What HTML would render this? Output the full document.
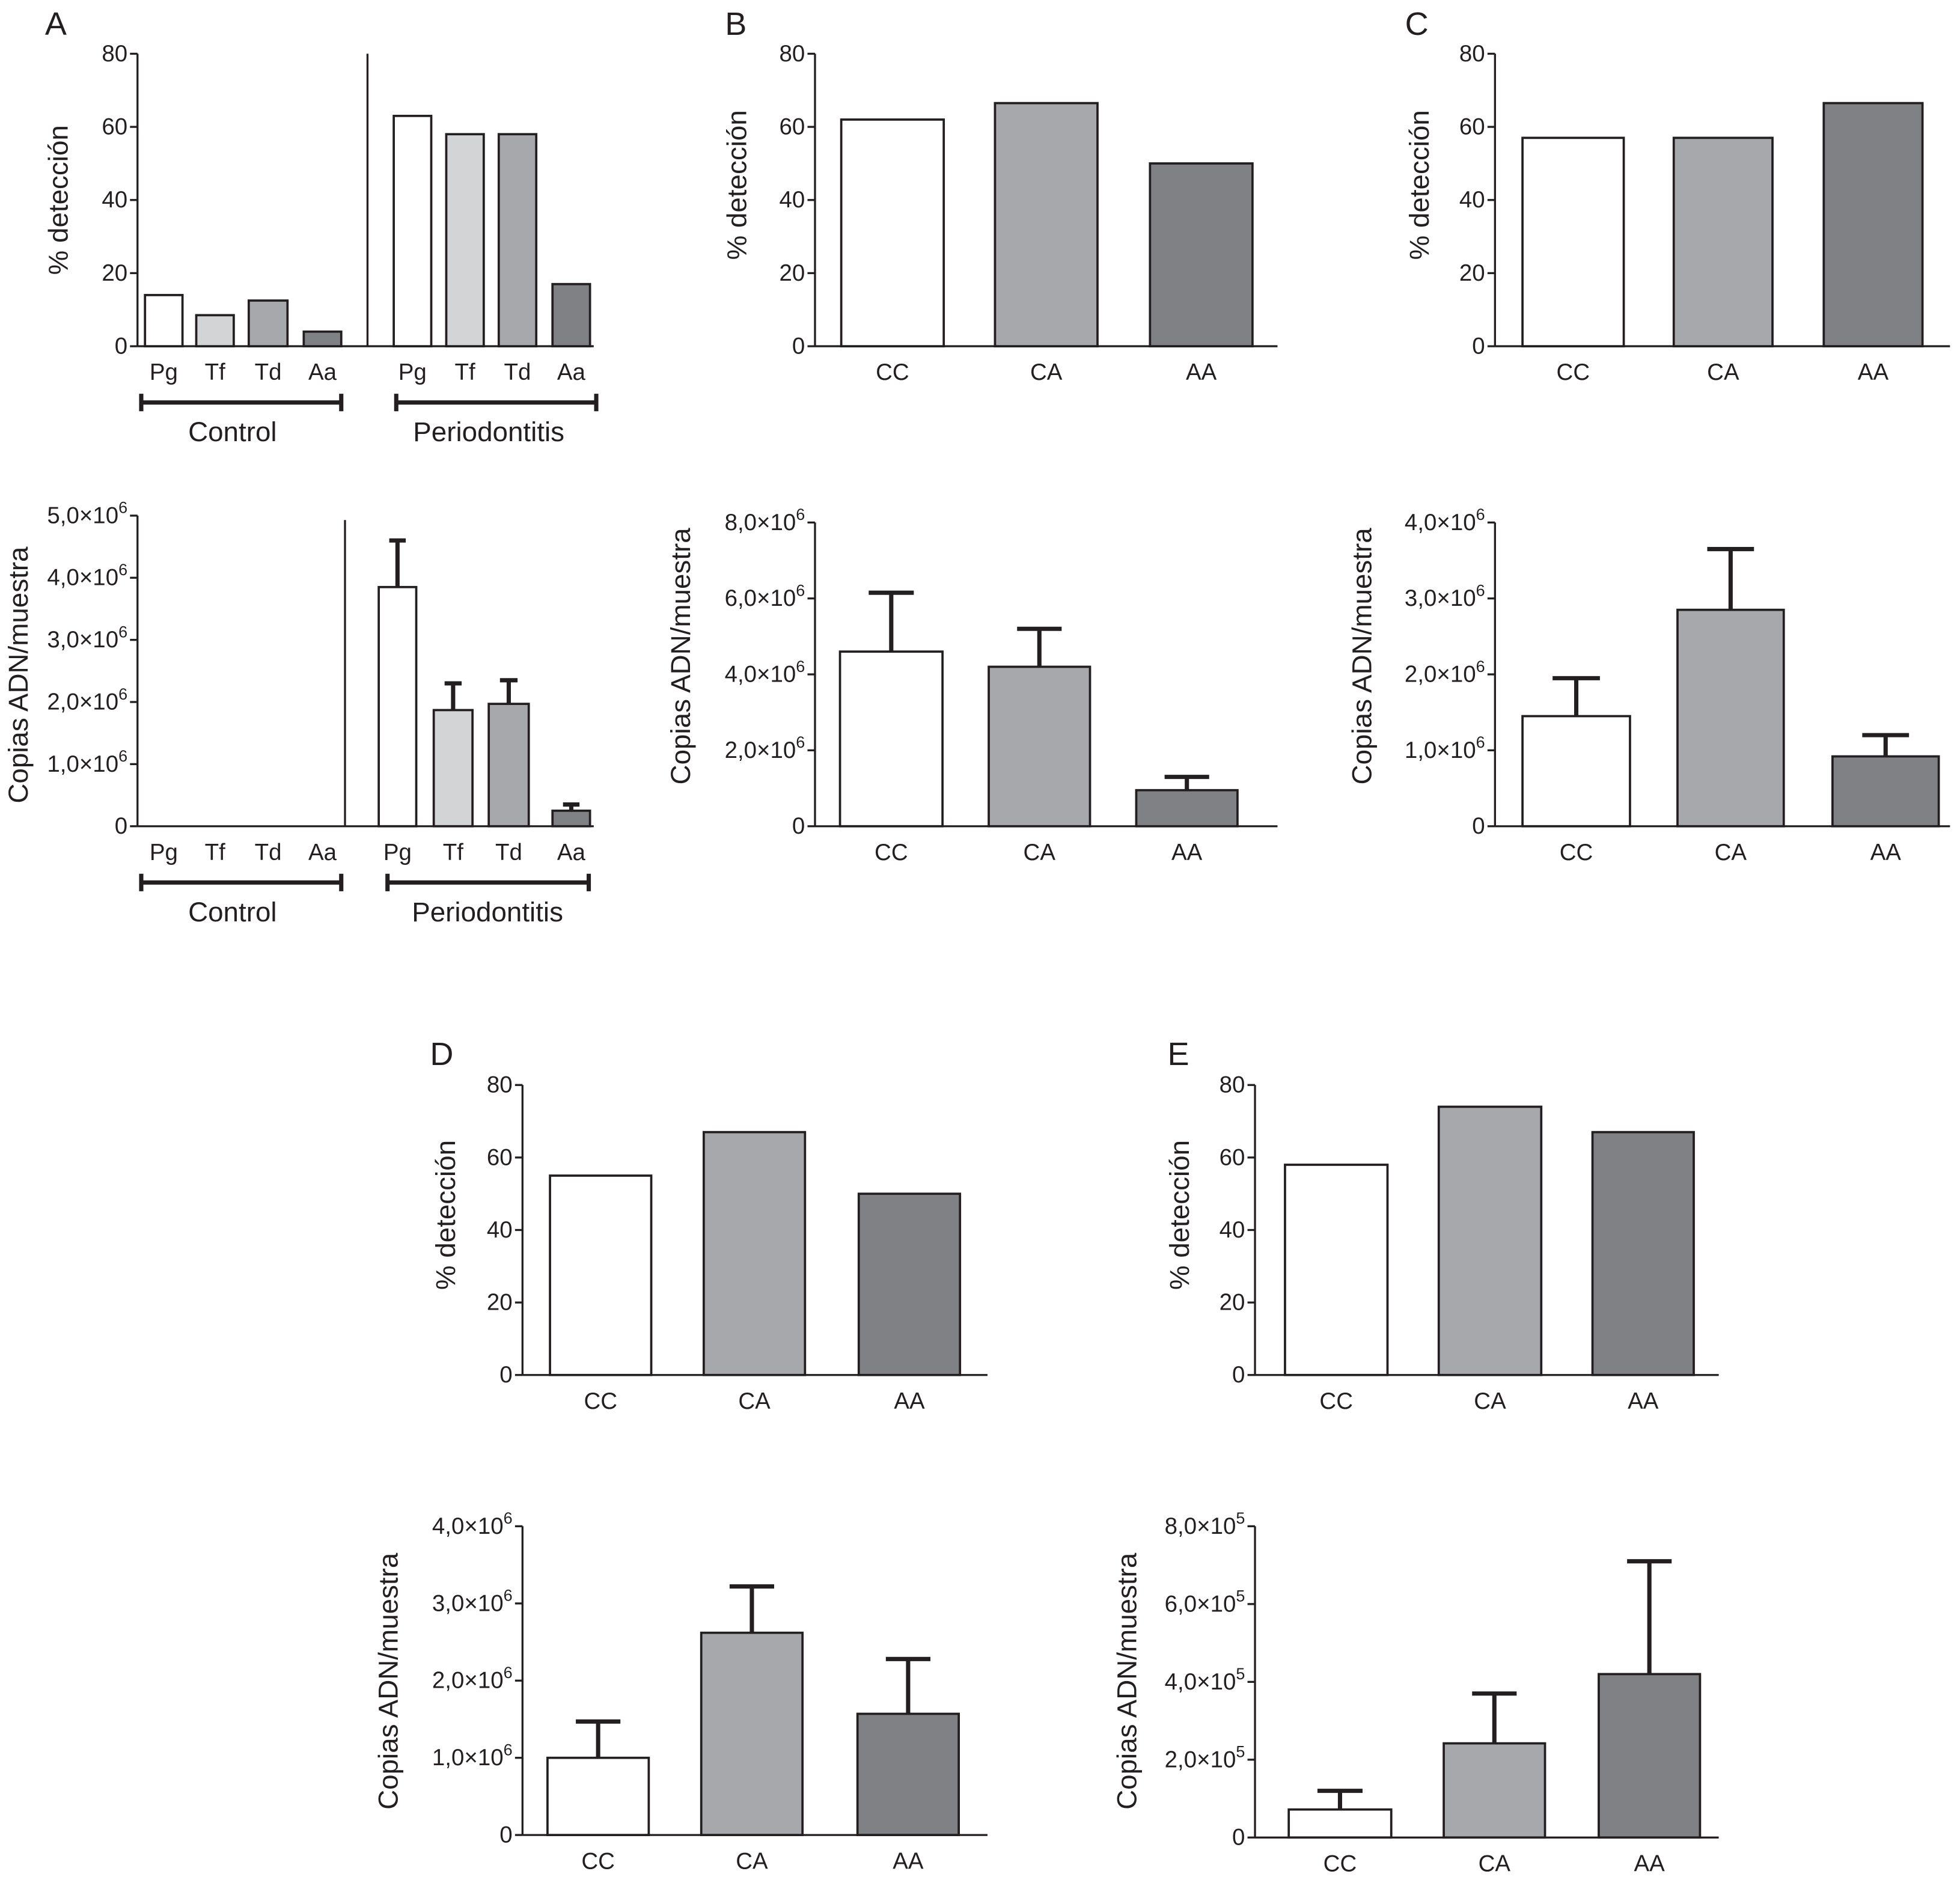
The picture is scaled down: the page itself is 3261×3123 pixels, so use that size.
<!DOCTYPE html>
<html><head><meta charset="utf-8"><style>
html,body{margin:0;padding:0;background:#fff}
svg{display:block}
text{font-family:"Liberation Sans",sans-serif;fill:#231f20}
.tk{font-family:"Liberation Sans Narrow","Liberation Sans",sans-serif;font-size:18.5px}
</style></head><body>
<svg id="fig" xmlns="http://www.w3.org/2000/svg" width="3261" height="3123" viewBox="0 0 1568 1501.6" preserveAspectRatio="none"></svg>
<script>
// ---- data ----
const organisms = ["Pg","Tf","Td","Aa"];
const aDetControl = [14,8.5,12.5,4];
const aDetPerio = [63,58,58,17];
const aCopControl = [0,0,0,0];
const aCopPerio = [3.85,1.87,1.97,0.25];
const aCopPerioErr = [4.6,2.3,2.35,0.35];
const genotypes = ["CC","CA","AA"];
const bDet = [62,66.5,50];
const bCop = [4.6,4.2,0.95];
const bCopErr = [6.15,5.2,1.3];
const cDet = [57,57,66.5];
const cCop = [1.45,2.85,0.92];
const cCopErr = [1.95,3.65,1.2];
const dDet = [55,67,50];
const dCop = [1.0,2.62,1.57];
const dCopErr = [1.47,3.22,2.28];
const eDet = [58,74,67];
const eCop = [0.72,2.42,4.2];
const eCopErr = [1.2,3.7,7.1];
const detTicks = [0,20,40,60,80];
const cop5Ticks = [0,1,2,3,4,5];
const cop8Ticks = [0,2,4,6,8];
const cop4Ticks = [0,1,2,3,4];
const colors4 = ["#ffffff","#d3d4d6","#a7a8ab","#808184"];
const colors3 = ["#ffffff","#a7a8ab","#808184"];

const svg = document.getElementById('fig');
const NS = "http://www.w3.org/2000/svg";
function el(tag, attrs, parent){
  const e = document.createElementNS(NS, tag);
  for (const k in attrs) e.setAttribute(k, attrs[k]);
  (parent||svg).appendChild(e);
  return e;
}
function txt(x,y,s,cls,anchor,parent){
  const t = el('text',{x:x,y:y,'text-anchor':anchor||'middle'},parent);
  if (cls) t.setAttribute('class',cls);
  t.textContent = s; return t;
}

function panel(o){
  const g = el('g',{});
  
  
  const ys = v => o.y0 - (v - 0) / o.max * (o.y0 - o.yTop);
  const ya = el('line',{x1:o.x0,y1:o.yTop,x2:o.x0,y2:o.y0,stroke:'#231f20','stroke-width':1.6},g);
   
  const xa = el('line',{x1:o.x0,y1:o.y0,x2:o.xEnd,y2:o.y0,stroke:'#231f20','stroke-width':1.6},g);
   
  o.ticks.forEach(v=>{
    const y = ys(v);
    el('line',{x1:o.x0-6,y1:y,x2:o.x0,y2:y,stroke:'#231f20','stroke-width':1.6},g);
    let t;
    if (v===0 || !o.sci) { t = txt(o.x0-8, y+6, String(v), 'tk','end',g); }
    else {
      t = el('text',{x:o.x0-8,y:y+6,'text-anchor':'end','class':'tk'},g);
      const a = el('tspan',{},t); a.textContent = v.toFixed(1).replace('.',',')+'×10';
      const b = el('tspan',{dy:-8,'font-size':13},t); b.textContent = o.sci;
    }
     
  });
  o.bars.forEach((b,i)=>{
    const yv = ys(b.v);
    if (b.v>0){
      const r = el('rect',{x:b.x1,y:yv,width:b.x2-b.x1,height:o.y0-yv,fill:b.c,stroke:'#231f20','stroke-width':1.8},g);
      
      
    }
    if (b.e!=null){
      const cx=(b.x1+b.x2)/2, ye=ys(b.e), hw=(b.x2-b.x1)*0.22;
      const l = el('path',{d:`M${cx},${yv} V${ye} M${cx-hw},${ye} H${cx+hw}`,stroke:'#231f20','stroke-width':3.4,fill:'none'},g);
      
      
    }
    const t = txt((b.x1+b.x2)/2, o.y0+27, b.label, 'tk','middle',g);
     
  });
  const t = el('text',{transform:`translate(${o.tx},${o.ty}) rotate(-90)`,'text-anchor':'middle','font-size':22},g);
  t.textContent = o.title;
   
  return {g, ys};
}
function mk3(vals, errs, xs, colors){
  return genotypes.map((gname,i)=>({label:gname,v:vals[i],e:errs?errs[i]:null,x1:xs[i][0],x2:xs[i][1],c:colors[i]}));
}
function letter(x,y,s){
  const t = txt(x,y,s,null,'start'); t.setAttribute('font-size',26);
   
}
function bracket(x1,x2,y,label,cx){
  const p = el('path',{d:`M${x1},${y-7}V${y+7}M${x1},${y}H${x2}M${x2},${y-7}V${y+7}`,stroke:'#231f20','stroke-width':3.4,fill:'none'});
   
  const t = txt(cx,y+31,label,null,'middle'); t.setAttribute('font-size',22);
   
}

const aXs = [[116,146],[157,187],[199,230],[243,273]];
const aXp = [[315,345],[357,387],[399,429],[442,472]];
{
  const bars = organisms.map((n,i)=>({label:n,v:aDetControl[i],x1:aXs[i][0],x2:aXs[i][1],c:colors4[i]}))
    .concat(organisms.map((n,i)=>({label:n,v:aDetPerio[i],x1:aXp[i][0],x2:aXp[i][1],c:colors4[i]})));
  const p = panel({name:'panel-a-detection',x0:110,y0:277,yTop:43,xEnd:475,max:80,ticks:detTicks,bars,tx:54,ty:160,title:'% detección'});
  el('line',{x1:294,y1:43,x2:294,y2:277,stroke:'#231f20','stroke-width':1.6},p.g);
  bracket(113,273,322,'Control',186);
  bracket(317,477,322,'Periodontitis',391);
}
const aXp2 = [[303,333],[347,378],[391,423],[442,472]];
{
  const bars = organisms.map((n,i)=>({label:n,v:aCopControl[i],x1:aXs[i][0],x2:aXs[i][1],c:colors4[i]}))
    .concat(organisms.map((n,i)=>({label:n,v:aCopPerio[i],e:aCopPerioErr[i],x1:aXp2[i][0],x2:aXp2[i][1],c:colors4[i]})));
  const p = panel({name:'panel-a-copies',x0:110,y0:661,yTop:412.5,xEnd:475,max:5,ticks:cop5Ticks,sci:'6',bars,tx:22,ty:540,title:'Copias ADN/muestra'});
  el('line',{x1:276,y1:416,x2:276,y2:661,stroke:'#231f20','stroke-width':1.6},p.g);
  bracket(113,273,706,'Control',186);
  bracket(310,471,706,'Periodontitis',390);
}
letter(36,28,'A'); letter(580,28,'B'); letter(1124,28,'C'); letter(344,852,'D'); letter(934,852,'E');

panel({name:'panel-b-detection',x0:652,y0:277,yTop:43,xEnd:1022,max:80,ticks:detTicks,bars:mk3(bDet,null,[[673,755],[796,878],[920,1002]],colors3),tx:597,ty:148,title:'% detección'});
panel({name:'panel-b-copies',x0:652,y0:661,yTop:418,xEnd:1022,max:8,ticks:cop8Ticks,sci:'6',bars:mk3(bCop,bCopErr,[[672,754],[791,872],[909,990]],colors3),tx:552,ty:525,title:'Copias ADN/muestra'});
panel({name:'panel-c-detection',x0:1196,y0:277,yTop:43,xEnd:1560,max:80,ticks:detTicks,bars:mk3(cDet,null,[[1218,1299],[1339,1418],[1459,1538]],colors3),tx:1143,ty:148,title:'% detección'});
panel({name:'panel-c-copies',x0:1196,y0:661,yTop:418,xEnd:1560,max:4,ticks:cop4Ticks,sci:'6',bars:mk3(cCop,cCopErr,[[1218,1304],[1342,1427],[1466,1551]],colors3),tx:1097,ty:525,title:'Copias ADN/muestra'});
panel({name:'panel-d-detection',x0:418,y0:1100,yTop:868,xEnd:790,max:80,ticks:detTicks,bars:mk3(dDet,null,[[440,521],[563,644],[687,768]],colors3),tx:364,ty:972,title:'% detección'});
panel({name:'panel-d-copies',x0:418,y0:1468,yTop:1221,xEnd:790,max:4,ticks:cop4Ticks,sci:'6',bars:mk3(dCop,dCopErr,[[438,519],[561,642],[686,767]],colors3),tx:318,ty:1345,title:'Copias ADN/muestra'});
panel({name:'panel-e-detection',x0:1004,y0:1100,yTop:868,xEnd:1375,max:80,ticks:detTicks,bars:mk3(eDet,null,[[1028,1110],[1151,1233],[1274,1355]],colors3),tx:951,ty:972,title:'% detección'});
panel({name:'panel-e-copies',x0:1004,y0:1470,yTop:1221,xEnd:1375,max:8,ticks:cop8Ticks,sci:'5',bars:mk3(eCop,eCopErr,[[1031,1113],[1155,1236],[1279,1360]],colors3),tx:909,ty:1345,title:'Copias ADN/muestra'});
</script>
</body></html>
